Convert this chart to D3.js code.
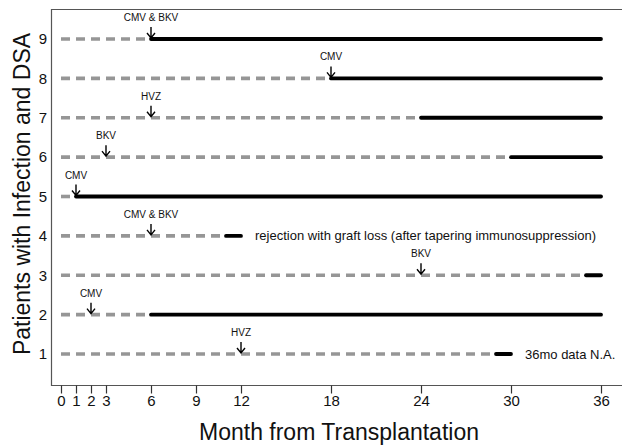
<!DOCTYPE html>
<html>
<head>
<meta charset="utf-8">
<script src="https://cdn.jsdelivr.net/npm/d3@7"></script>
<style>
  body { margin: 0; background: #fff; }
  text { font-family: "Liberation Sans", Arial, sans-serif; }
</style>
</head>
<body>
<div id="chart"></div>
<script>
// patient rows, bottom to top
var patients = [1, 2, 3, 4, 5, 6, 7, 8, 9];
// month where DSA appears (grey dashed before, black after)
var dsaMonth = [29, 6, 35, 11, 1, 30, 24, 18, 6];
// last month of follow-up
var endMonth = [30, 36, 36, 12, 36, 36, 36, 36, 36];
// infection arrow month and label
var infMonth = [12, 2, 24, 6, 1, 3, 6, 18, 6];
var infLabel = ['HVZ', 'CMV', 'BKV', 'CMV & BKV', 'CMV', 'BKV', 'HVZ', 'CMV', 'CMV & BKV'];
// notes at the end of a row
var notePatient = [4, 1];
var noteText = ['rejection with graft loss (after tapering immunosuppression)', '36mo data N.A.'];
var xTicks = [0, 1, 2, 3, 6, 9, 12, 18, 24, 30, 36];

var svgWidth = 622;
var svgHeight = 447;

var margin = { top: 9, right: 0, bottom: 62, left: 51 };

var svg = d3.select('#chart')
    .append('svg')
    .attr('width', svgWidth)
    .attr('height', svgHeight);

// x: 15px per month, 0 at x=61
var xScale = d3.scaleLinear()
    .domain([0, 36])
    .range([61, 601]);

var yScale = d3.scaleLinear()
    .domain([1, 9])
    .range([354, 39]);

var plotLeft = margin.left;
var plotTop = margin.top;
var plotBottom = svgHeight - margin.bottom + 0.5;

// box (right side falls off the picture)
svg.append('path')
    .attr('d', `M${svgWidth + 10},${plotTop + 0.5} H${plotLeft + 0.5} V${plotBottom} H${svgWidth + 10}`)
    .attr('fill', 'none')
    .attr('stroke', '#555')
    .attr('stroke-width', 1.2);

// x axis
var bottomAxis = d3.axisBottom(xScale)
    .tickValues(xTicks)
    .tickSize(8)
    .tickPadding(2);

var xAxisG = svg.append('g')
    .attr('transform', `translate(0, ${plotBottom})`)
    .call(bottomAxis);
xAxisG.select('.domain').remove();
xAxisG.selectAll('line').attr('stroke', '#333').attr('stroke-width', 1.2);
xAxisG.selectAll('text')
    .attr('font-size', 15)
    .attr('fill', '#111')
    .style('font-family', '"Liberation Sans", Arial, sans-serif');

// y axis labels, no ticks
var leftAxis = d3.axisLeft(yScale)
    .tickValues(patients)
    .tickFormat(d3.format('d'))
    .tickSize(0)
    .tickPadding(4);

var yAxisG = svg.append('g')
    .attr('transform', `translate(${plotLeft}, 0)`)
    .call(leftAxis);
yAxisG.select('.domain').remove();
yAxisG.selectAll('text')
    .attr('font-size', 15)
    .attr('fill', '#111')
    .style('font-family', '"Liberation Sans", Arial, sans-serif');

// axis titles
svg.append('text')
    .attr('x', 339)
    .attr('y', 440)
    .attr('text-anchor', 'middle')
    .attr('font-size', 23)
    .attr('fill', '#111')
    .text('Month from Transplantation');

svg.append('text')
    .attr('transform', `translate(30, 194) rotate(-90)`)
    .attr('text-anchor', 'middle')
    .attr('font-size', 23)
    .attr('fill', '#111')
    .text('Patients with Infection and DSA');

var rows = patients.map((p, i) => ({
    p: p,
    dsa: dsaMonth[i],
    end: endMonth[i],
    inf: infMonth[i],
    lab: infLabel[i]
}));

// grey dashed before DSA
svg.selectAll('line.pre')
    .data(rows)
    .enter()
    .append('line')
    .attr('class', 'pre')
    .attr('x1', d => xScale(0))
    .attr('x2', d => xScale(d.dsa))
    .attr('y1', d => yScale(d.p))
    .attr('y2', d => yScale(d.p))
    .attr('stroke', '#969696')
    .attr('stroke-width', 3.6)
    .attr('stroke-dasharray', '9,6');

// black solid after DSA
svg.selectAll('line.post')
    .data(rows)
    .enter()
    .append('line')
    .attr('class', 'post')
    .attr('x1', d => xScale(d.dsa))
    .attr('x2', d => xScale(d.end))
    .attr('y1', d => yScale(d.p))
    .attr('y2', d => yScale(d.p))
    .attr('stroke', '#000')
    .attr('stroke-width', 3.8)
    .attr('stroke-linecap', 'round');

// infection arrows
var arrows = svg.selectAll('g.arrow')
    .data(rows)
    .enter()
    .append('g')
    .attr('class', 'arrow')
    .attr('transform', d => `translate(${xScale(d.inf)}, ${yScale(d.p)})`);

arrows.append('path')
    .attr('d', 'M0,-12 V-1 M-4,-6 L0,-1 L4,-6')
    .attr('fill', 'none')
    .attr('stroke', '#000')
    .attr('stroke-width', 1.4);

arrows.append('text')
    .attr('y', -18)
    .attr('text-anchor', 'middle')
    .attr('font-size', 10)
    .attr('fill', '#111')
    .text(d => d.lab);

// notes after the row end
svg.selectAll('text.note')
    .data(notePatient)
    .enter()
    .append('text')
    .attr('class', 'note')
    .attr('x', (p, i) => xScale(endMonth[p - 1]) + 14)
    .attr('y', p => yScale(p))
    .attr('dy', '0.35em')
    .attr('font-size', 13)
    .attr('fill', '#111')
    .text((p, i) => noteText[i]);
</script>
</body>
</html>
